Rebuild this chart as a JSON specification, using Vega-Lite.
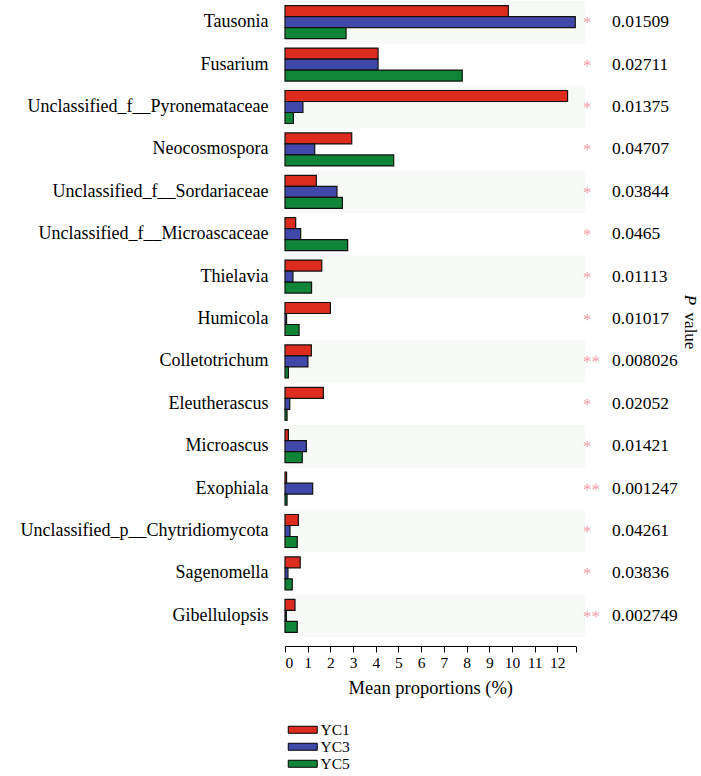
{
  "$schema": "https://vega.github.io/schema/vega-lite/v6.json",
  "autosize": {"type": "none"},
  "width": 290.5,
  "height": 636,
  "padding": {"left": 285, "top": 1, "right": 125.5, "bottom": 139},
  "background": "white",
  "config": {
    "view": {"stroke": null},
    "font": "Liberation Serif",
    "axis": {
      "labelFont": "Liberation Serif",
      "titleFont": "Liberation Serif",
      "labelColor": "black",
      "titleColor": "black",
      "titleFontWeight": "normal",
      "grid": false
    },
    "axisX": {
      "labelFontSize": 15.5,
      "titleFontSize": 18.5,
      "labelOverlap": false,
      "domainColor": "black",
      "tickColor": "black",
      "tickSize": 6,
      "labelPadding": 3,
      "titlePadding": 8,
      "offset": 9
    },
    "axisY": {
      "labelFontSize": 18,
      "labelPadding": 17,
      "domain": false,
      "ticks": false,
      "labelLimit": 400
    },
    "legend": {
      "orient": "none",
      "legendX": 10,
      "legendY": 721,
      "padding": 0,
      "title": null,
      "symbolType": "M-4.14,-1H4.14V1H-4.14Z",
      "symbolSize": 49,
      "symbolStrokeColor": "black",
      "symbolStrokeWidth": 1,
      "symbolOpacity": 1,
      "labelFont": "Liberation Serif",
      "labelFontSize": 15.5,
      "labelColor": "black",
      "labelOffset": 10,
      "rowPadding": -1.5
    }
  },
  "datasets": {
    "bars": [
      {"genus": "Tausonia", "group": "YC1", "value": 9.84},
      {"genus": "Tausonia", "group": "YC3", "value": 12.79},
      {"genus": "Tausonia", "group": "YC5", "value": 2.69},
      {"genus": "Fusarium", "group": "YC1", "value": 4.1},
      {"genus": "Fusarium", "group": "YC3", "value": 4.1},
      {"genus": "Fusarium", "group": "YC5", "value": 7.81},
      {"genus": "Unclassified_f__Pyronemataceae", "group": "YC1", "value": 12.45},
      {"genus": "Unclassified_f__Pyronemataceae", "group": "YC3", "value": 0.79},
      {"genus": "Unclassified_f__Pyronemataceae", "group": "YC5", "value": 0.37},
      {"genus": "Neocosmospora", "group": "YC1", "value": 2.94},
      {"genus": "Neocosmospora", "group": "YC3", "value": 1.31},
      {"genus": "Neocosmospora", "group": "YC5", "value": 4.79},
      {"genus": "Unclassified_f__Sordariaceae", "group": "YC1", "value": 1.38},
      {"genus": "Unclassified_f__Sordariaceae", "group": "YC3", "value": 2.29},
      {"genus": "Unclassified_f__Sordariaceae", "group": "YC5", "value": 2.53},
      {"genus": "Unclassified_f__Microascaceae", "group": "YC1", "value": 0.47},
      {"genus": "Unclassified_f__Microascaceae", "group": "YC3", "value": 0.69},
      {"genus": "Unclassified_f__Microascaceae", "group": "YC5", "value": 2.76},
      {"genus": "Thielavia", "group": "YC1", "value": 1.62},
      {"genus": "Thielavia", "group": "YC3", "value": 0.35},
      {"genus": "Thielavia", "group": "YC5", "value": 1.17},
      {"genus": "Humicola", "group": "YC1", "value": 2.0},
      {"genus": "Humicola", "group": "YC3", "value": 0.07},
      {"genus": "Humicola", "group": "YC5", "value": 0.62},
      {"genus": "Colletotrichum", "group": "YC1", "value": 1.16},
      {"genus": "Colletotrichum", "group": "YC3", "value": 1.01},
      {"genus": "Colletotrichum", "group": "YC5", "value": 0.15},
      {"genus": "Eleutherascus", "group": "YC1", "value": 1.69},
      {"genus": "Eleutherascus", "group": "YC3", "value": 0.21},
      {"genus": "Eleutherascus", "group": "YC5", "value": 0.09},
      {"genus": "Microascus", "group": "YC1", "value": 0.15},
      {"genus": "Microascus", "group": "YC3", "value": 0.94},
      {"genus": "Microascus", "group": "YC5", "value": 0.76},
      {"genus": "Exophiala", "group": "YC1", "value": 0.07},
      {"genus": "Exophiala", "group": "YC3", "value": 1.22},
      {"genus": "Exophiala", "group": "YC5", "value": 0.09},
      {"genus": "Unclassified_p__Chytridiomycota", "group": "YC1", "value": 0.59},
      {"genus": "Unclassified_p__Chytridiomycota", "group": "YC3", "value": 0.22},
      {"genus": "Unclassified_p__Chytridiomycota", "group": "YC5", "value": 0.54},
      {"genus": "Sagenomella", "group": "YC1", "value": 0.67},
      {"genus": "Sagenomella", "group": "YC3", "value": 0.13},
      {"genus": "Sagenomella", "group": "YC5", "value": 0.32},
      {"genus": "Gibellulopsis", "group": "YC1", "value": 0.44},
      {"genus": "Gibellulopsis", "group": "YC3", "value": 0.06},
      {"genus": "Gibellulopsis", "group": "YC5", "value": 0.54}
    ],
    "info": [
      {"genus": "Tausonia", "pval": "0.01509", "stars": "*", "shade": 1},
      {"genus": "Fusarium", "pval": "0.02711", "stars": "*", "shade": 0},
      {"genus": "Unclassified_f__Pyronemataceae", "pval": "0.01375", "stars": "*", "shade": 1},
      {"genus": "Neocosmospora", "pval": "0.04707", "stars": "*", "shade": 0},
      {"genus": "Unclassified_f__Sordariaceae", "pval": "0.03844", "stars": "*", "shade": 1},
      {"genus": "Unclassified_f__Microascaceae", "pval": "0.0465", "stars": "*", "shade": 0},
      {"genus": "Thielavia", "pval": "0.01113", "stars": "*", "shade": 1},
      {"genus": "Humicola", "pval": "0.01017", "stars": "*", "shade": 0},
      {"genus": "Colletotrichum", "pval": "0.008026", "stars": "**", "shade": 1},
      {"genus": "Eleutherascus", "pval": "0.02052", "stars": "*", "shade": 0},
      {"genus": "Microascus", "pval": "0.01421", "stars": "*", "shade": 1},
      {"genus": "Exophiala", "pval": "0.001247", "stars": "**", "shade": 0},
      {"genus": "Unclassified_p__Chytridiomycota", "pval": "0.04261", "stars": "*", "shade": 1},
      {"genus": "Sagenomella", "pval": "0.03836", "stars": "*", "shade": 0},
      {"genus": "Gibellulopsis", "pval": "0.002749", "stars": "**", "shade": 1}
    ],
    "title": [{"label": "P value"}]
  },
  "resolve": {"scale": {"y": "shared", "x": "shared"}},
  "layer": [
    {
      "data": {"name": "info"},
      "transform": [{"filter": "datum.shade == 1"}],
      "mark": {"type": "rect", "color": "#f8faf8"},
      "encoding": {
        "y": {
          "field": "genus",
          "type": "nominal",
          "scale": {"domain": ["Tausonia", "Fusarium", "Unclassified_f__Pyronemataceae", "Neocosmospora", "Unclassified_f__Sordariaceae", "Unclassified_f__Microascaceae", "Thielavia", "Humicola", "Colletotrichum", "Eleutherascus", "Microascus", "Exophiala", "Unclassified_p__Chytridiomycota", "Sagenomella", "Gibellulopsis"], "paddingInner": 0, "paddingOuter": 0},
          "axis": {"title": null}
        },
        "x": {
          "datum": 0,
          "type": "quantitative",
          "scale": {"domain": [0, 12.8], "nice": false, "zero": true},
          "axis": {"title": "Mean proportions (%)", "values": [0, 1, 2, 3, 4, 5, 6, 7, 8, 9, 10, 11, 12, 12.8], "labelExpr": "datum.value > 12.5 ? '' : datum.label", "labelOverlap": false}
        },
        "x2": {"datum": 13.24}
      }
    },
    {
      "data": {"name": "bars"},
      "mark": {"type": "bar", "stroke": "#111111", "strokeWidth": 1.2},
      "encoding": {
        "y": {"field": "genus", "type": "nominal", "axis": {"title": null}},
        "yOffset": {"field": "group", "type": "nominal", "scale": {"paddingInner": 0, "paddingOuter": 0.43}},
        "x": {
          "field": "value",
          "type": "quantitative",
          "axis": {"title": "Mean proportions (%)", "values": [0, 1, 2, 3, 4, 5, 6, 7, 8, 9, 10, 11, 12, 12.8], "labelExpr": "datum.value > 12.5 ? '' : datum.label", "labelOverlap": false}
        },
        "color": {
          "field": "group",
          "type": "nominal",
          "scale": {"domain": ["YC1", "YC3", "YC5"], "range": ["#dd2b1e", "#4048aa", "#108537"]}
        }
      }
    },
    {
      "data": {"name": "info"},
      "mark": {"type": "text", "color": "#f2a0a8", "fontSize": 17, "align": "left", "baseline": "middle", "dy": 1, "font": "Liberation Serif"},
      "encoding": {
        "y": {"field": "genus", "type": "nominal", "axis": {"title": null}},
        "x": {"datum": 13.13, "type": "quantitative", "axis": {"title": "Mean proportions (%)", "values": [0, 1, 2, 3, 4, 5, 6, 7, 8, 9, 10, 11, 12, 12.8], "labelExpr": "datum.value > 12.5 ? '' : datum.label", "labelOverlap": false}},
        "text": {"field": "stars"}
      }
    },
    {
      "data": {"name": "info"},
      "mark": {"type": "text", "color": "black", "fontSize": 17.5, "align": "left", "baseline": "middle", "font": "Liberation Serif"},
      "encoding": {
        "y": {"field": "genus", "type": "nominal", "axis": {"title": null}},
        "x": {"datum": 14.41, "type": "quantitative", "axis": {"title": "Mean proportions (%)", "values": [0, 1, 2, 3, 4, 5, 6, 7, 8, 9, 10, 11, 12, 12.8], "labelExpr": "datum.value > 12.5 ? '' : datum.label", "labelOverlap": false}},
        "text": {"field": "pval"}
      }
    },
    {
      "data": {"name": "title"},
      "mark": {"type": "text", "color": "black", "fontSize": 17, "align": "center", "baseline": "middle", "angle": 90, "fontStyle": "italic", "dx": -19, "font": "Liberation Serif", "text": "P"},
      "encoding": {
        "y": {"datum": "Humicola", "type": "nominal", "axis": {"title": null}},
        "x": {"datum": 17.84, "type": "quantitative", "axis": {"title": "Mean proportions (%)", "values": [0, 1, 2, 3, 4, 5, 6, 7, 8, 9, 10, 11, 12, 12.8], "labelExpr": "datum.value > 12.5 ? '' : datum.label", "labelOverlap": false}}
      }
    },
    {
      "data": {"name": "title"},
      "mark": {"type": "text", "color": "black", "fontSize": 17, "align": "center", "baseline": "middle", "angle": 90, "dx": 12, "font": "Liberation Serif", "text": "value"},
      "encoding": {
        "y": {"datum": "Humicola", "type": "nominal", "axis": {"title": null}},
        "x": {"datum": 17.84, "type": "quantitative", "axis": {"title": "Mean proportions (%)", "values": [0, 1, 2, 3, 4, 5, 6, 7, 8, 9, 10, 11, 12, 12.8], "labelExpr": "datum.value > 12.5 ? '' : datum.label", "labelOverlap": false}}
      }
    }
  ]
}
